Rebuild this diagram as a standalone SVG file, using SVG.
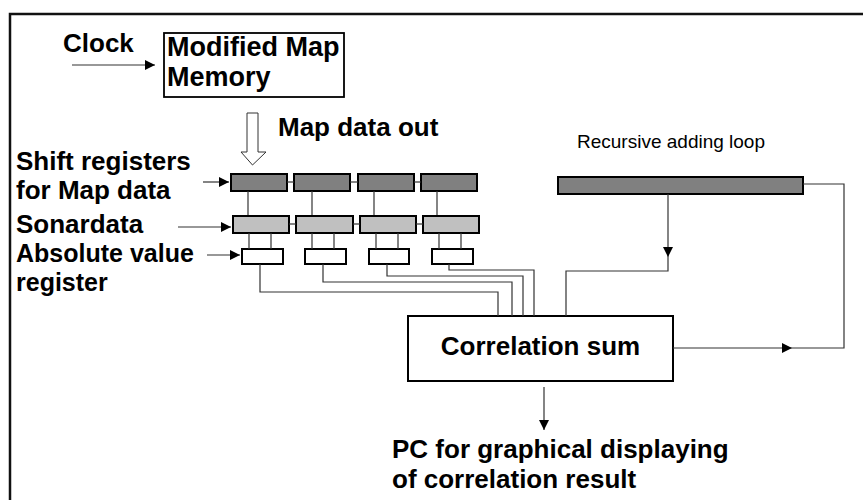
<svg xmlns="http://www.w3.org/2000/svg" width="863" height="500" viewBox="0 0 863 500">
<style>
  text { font-family: "Liberation Sans", Arial, sans-serif; fill: #000; }
  .lbl { font-size: 26px; font-weight: bold; }
  .lbl2 { font-size: 25px; font-weight: bold; }
  .small { font-size: 19px; }
  .wire { fill: none; stroke: #333; stroke-width: 1.2; }
  .box { stroke: #000; stroke-width: 2; }
  .dark { fill: #808080; }
  .light { fill: #c0c0c0; }
  .white { fill: #fff; }
</style>
<defs>
  <marker id="ah" viewBox="0 0 10 10" refX="10" refY="5" markerWidth="10" markerHeight="10" markerUnits="userSpaceOnUse" orient="auto">
    <path d="M0,0 L10,5 L0,10 z" fill="#000"/>
  </marker>
</defs>
<rect x="0" y="0" width="863" height="500" fill="#fff"/>
<rect x="10" y="14" width="900" height="600" fill="none" stroke="#111" stroke-width="2.5"/>

<g id="clock">
  <text class="lbl" x="63" y="52">Clock</text>
</g>
<g id="memory">
  <rect x="164" y="33" width="180" height="64" fill="#fff" stroke="#000" stroke-width="1.8"/>
  <text class="lbl" x="167" y="56" style="font-size:27px">Modified Map</text>
  <text class="lbl" x="167" y="86" style="font-size:27px">Memory</text>
</g>
<g id="mapdataout">
  <path d="M247,113 L258,113 L258,152 L266,152 L252.5,165 L241,152 L247,152 z" fill="#fff" stroke="#333" stroke-width="1"/>
  <text class="lbl" x="278" y="136">Map data out</text>
</g>
<g id="labels">
  <text class="lbl" x="16" y="170">Shift registers</text>
  <text class="lbl" x="16" y="199">for Map data</text>
  <text class="lbl" x="16" y="233">Sonardata</text>
  <text class="lbl2" x="16" y="262">Absolute value</text>
  <text class="lbl2" x="16" y="291">register</text>
</g>
<g id="shiftregs">
  <rect class="box dark" x="231" y="174" width="56" height="17"/>
  <rect class="box dark" x="294" y="174" width="56" height="17"/>
  <rect class="box dark" x="358" y="174" width="56" height="17"/>
  <rect class="box dark" x="421" y="174" width="56" height="17"/>
</g>
<g id="sonarregs">
  <rect class="box light" x="233" y="216" width="56" height="17"/>
  <rect class="box light" x="296" y="216" width="57" height="17"/>
  <rect class="box light" x="360" y="216" width="56" height="17"/>
  <rect class="box light" x="423" y="216" width="56" height="17"/>
</g>
<g id="absregs">
  <rect class="box white" x="242" y="249" width="41" height="15"/>
  <rect class="box white" x="305" y="249" width="41" height="15"/>
  <rect class="box white" x="369" y="249" width="40" height="15"/>
  <rect class="box white" x="432" y="249" width="41" height="15"/>
</g>
<g id="recursive">
  <text class="small" x="577" y="148">Recursive adding loop</text>
  <rect class="box dark" x="558" y="177" width="245" height="17"/>
</g>
<g id="correlation">
  <rect x="408" y="316" width="265" height="65" fill="#fff" stroke="#000" stroke-width="2"/>
  <text class="lbl" x="540.5" y="355" text-anchor="middle">Correlation sum</text>
</g>
<g id="pc">
  <text class="lbl" x="392" y="458">PC for graphical displaying</text>
  <text class="lbl" x="392" y="488">of correlation result</text>
</g>

<g id="connectors">
  <line class="wire" x1="72" y1="65" x2="155" y2="65" marker-end="url(#ah)" stroke="#000"/>
  <line class="wire" x1="203" y1="182" x2="229" y2="182" marker-end="url(#ah)"/>
  <line class="wire" x1="178" y1="227" x2="231" y2="227" marker-end="url(#ah)"/>
  <line class="wire" x1="207" y1="255" x2="240" y2="255" marker-end="url(#ah)"/>
  <!-- shift chain -->
  <line class="wire" x1="287" y1="182" x2="294" y2="182"/>
  <line class="wire" x1="350" y1="182" x2="358" y2="182"/>
  <line class="wire" x1="414" y1="182" x2="421" y2="182"/>
  <line class="wire" x1="289" y1="224" x2="296" y2="224"/>
  <line class="wire" x1="353" y1="224" x2="360" y2="224"/>
  <line class="wire" x1="416" y1="224" x2="423" y2="224"/>
  <!-- row1 to row2 -->
  <line class="wire" x1="248" y1="191" x2="248" y2="215"/>
  <line class="wire" x1="312" y1="191" x2="312" y2="215"/>
  <line class="wire" x1="374" y1="191" x2="374" y2="215"/>
  <line class="wire" x1="437" y1="191" x2="437" y2="215"/>
  <!-- row2 to row3 -->
  <line class="wire" x1="249" y1="233" x2="249" y2="249"/>
  <line class="wire" x1="271" y1="233" x2="271" y2="249"/>
  <line class="wire" x1="312" y1="233" x2="312" y2="249"/>
  <line class="wire" x1="334" y1="233" x2="334" y2="249"/>
  <line class="wire" x1="376" y1="233" x2="376" y2="249"/>
  <line class="wire" x1="398" y1="233" x2="398" y2="249"/>
  <line class="wire" x1="439" y1="233" x2="439" y2="249"/>
  <line class="wire" x1="461" y1="233" x2="461" y2="249"/>
  <!-- abs to correlation -->
  <polyline class="wire" points="260,264 260,292 498,292 498,316"/>
  <polyline class="wire" points="323,264 323,282 512,282 512,316"/>
  <polyline class="wire" points="387,264 387,276 523,276 523,316"/>
  <polyline class="wire" points="449,264 449,270 534,270 534,316"/>
  <!-- recursive loop -->
  <line class="wire" x1="668" y1="194" x2="668" y2="257" marker-end="url(#ah)"/>
  <polyline class="wire" points="668,257 668,271 566,271 566,316"/>
  <line class="wire" x1="673" y1="348" x2="792" y2="348" marker-end="url(#ah)"/>
  <polyline class="wire" points="792,348 844,348 844,184 803,184"/>
  <!-- to PC -->
  <line class="wire" x1="544" y1="387" x2="544" y2="430" marker-end="url(#ah)" stroke="#000"/>
</g>
</svg>
